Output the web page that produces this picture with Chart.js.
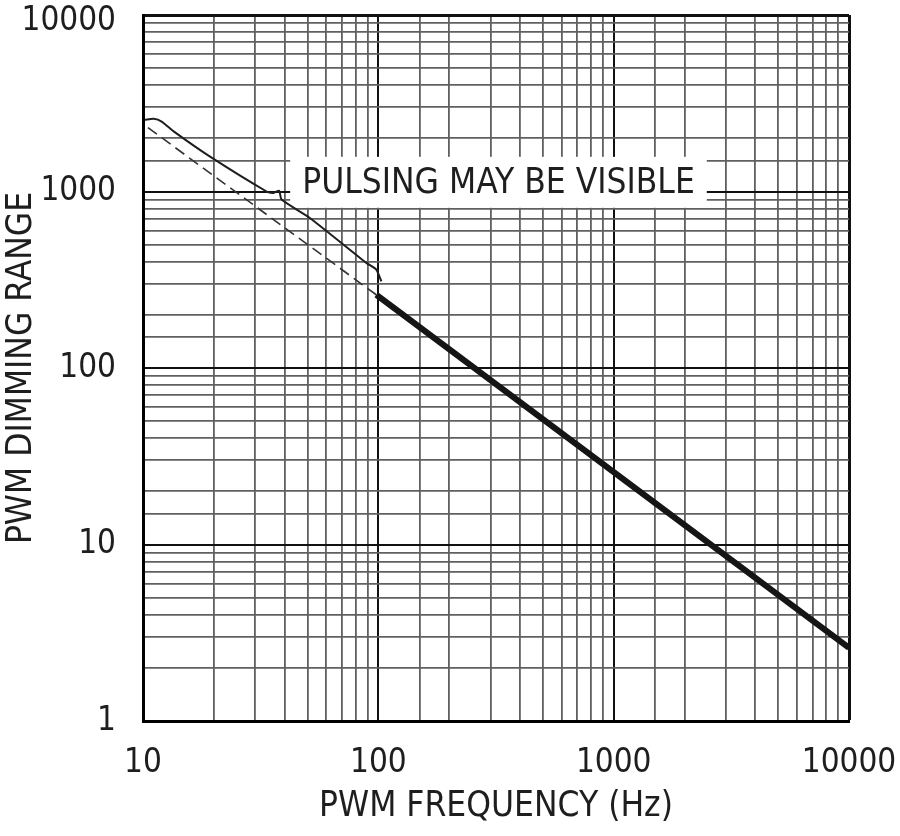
<!DOCTYPE html>
<html>
<head>
<meta charset="utf-8">
<script src="https://cdn.jsdelivr.net/npm/chart.js@4.4.1/dist/chart.umd.min.js"></script>
<style>
  html, body { margin: 0; padding: 0; background: #fff; }
  #wrap { width: 900px; height: 836px; }
</style>
</head>
<body>
<div id="wrap"><canvas id="chart" width="900" height="836"></canvas></div>
<script>
// values
const freqThick = [98, 10000];
const rangeThick = [260, 2.6];

const freqDashed = [10.5, 98];
const rangeDashed = [2300, 260];

// the thin bracket above the dashed part
const freqBracket = [10.2, 11.1, 12.0, 13.5, 19.2, 33.5, 35.7, 37.9, 38.8, 51, 88.9, 98, 103];
const rangeBracket = [2550, 2580, 2490, 2190, 1580, 1000, 980, 1010, 900, 710, 394, 361, 310];

const xTickLabels = [10, 100, 1000, 10000];
const yTickLabels = [1, 10, 100, 1000, 10000];

const noteText = 'PULSING MAY BE VISIBLE';
const noteAt = { x: 324, y: 1120 };

const FONT = "'Liberation Sans Narrow', 'DejaVu Sans Condensed', 'Arial Narrow', sans-serif";
const INK = '#1e1e1e';

const pts = (xs, ys) => xs.map((x, i) => ({ x, y: ys[i] }));
const isDecade = v => Math.abs(Math.log10(v) - Math.round(Math.log10(v))) < 1e-9;

function gridColor(ctx) {
  if (!ctx.tick) return '#555';
  return isDecade(ctx.tick.value) ? '#111' : '#606060';
}
function gridWidth(ctx, max) {
  if (!ctx.tick) return 2;
  if (ctx.tick.value >= max) return 3;
  return isDecade(ctx.tick.value) ? 2 : 1.8;
}
function noPad(scale) {
  scale.paddingLeft = 0;
  scale.paddingRight = 0;
  scale.paddingTop = 0;
  scale.paddingBottom = 0;
}

const notePlugin = {
  id: 'note',
  beforeDatasetsDraw(chart) {
    const { ctx, scales } = chart;
    const cx = scales.x.getPixelForValue(noteAt.x);
    const cy = scales.y.getPixelForValue(noteAt.y);
    ctx.save();
    ctx.font = '35px ' + FONT;
    const w = ctx.measureText(noteText).width;
    ctx.fillStyle = '#fff';
    ctx.fillRect(cx - w / 2 - 12, cy - 26, w + 24, 51);
    ctx.fillStyle = INK;
    ctx.textAlign = 'center';
    ctx.textBaseline = 'middle';
    ctx.fillText(noteText, cx, cy + 1);
    ctx.restore();
  }
};

function draw() {
  new Chart(document.getElementById('chart'), {
    type: 'line',
    data: {
      datasets: [
        {
          data: pts(freqThick, rangeThick),
          borderColor: '#151515', borderWidth: 6, pointRadius: 0, borderCapStyle: 'butt'
        },
        {
          data: pts(freqDashed, rangeDashed),
          borderColor: '#333', borderWidth: 1.6, borderDash: [11, 6], pointRadius: 0
        },
        {
          data: pts(freqBracket, rangeBracket),
          borderColor: INK, borderWidth: 2, pointRadius: 0, tension: 0.2
        }
      ]
    },
    options: {
      responsive: false,
      animation: false,
      layout: { padding: { top: 15, right: 51, left: 0, bottom: 0 } },
      plugins: { legend: { display: false }, tooltip: { enabled: false } },
      scales: {
        x: {
          type: 'logarithmic',
          min: 10, max: 10000,
          afterFit(scale) { scale.height = 115; noPad(scale); },
          border: { color: '#000', width: 3 },
          grid: {
            drawTicks: false,
            color: gridColor,
            lineWidth: ctx => gridWidth(ctx, 10000)
          },
          ticks: {
            autoSkip: false, maxRotation: 0, padding: 23,
            color: INK,
            font: { family: FONT, size: 33, lineHeight: 1.2 },
            callback: v => xTickLabels.includes(v) ? String(v) : ''
          },
          title: {
            display: true,
            text: 'PWM FREQUENCY (Hz)',
            color: INK,
            font: { family: FONT, size: 35, lineHeight: 1.2 },
            padding: { top: 0, bottom: 8 }
          }
        },
        y: {
          type: 'logarithmic',
          min: 1, max: 10000,
          afterFit(scale) { scale.width = 143; noPad(scale); },
          border: { color: '#000', width: 3 },
          grid: {
            drawTicks: false,
            color: gridColor,
            lineWidth: ctx => gridWidth(ctx, 10000)
          },
          ticks: {
            autoSkip: false, padding: 27,
            color: INK,
            // top label sits a little below its line, as in the original
            font: ctx => ({
              family: FONT, size: 33,
              lineHeight: ctx.tick && ctx.tick.value === 10000 ? 0.4 : 0.8
            }),
            callback: v => v === 10000 ? ['', '10000']
              : (yTickLabels.includes(v) ? String(v) : '')
          },
          title: {
            display: true,
            text: 'PWM DIMMING RANGE',
            color: INK,
            font: { family: FONT, size: 35, lineHeight: 1.2 },
            padding: { top: 1, bottom: 0 }
          }
        }
      }
    },
    plugins: [notePlugin]
  });
}

if (document.fonts && document.fonts.load) {
  document.fonts.load('35px ' + FONT).then(draw, draw);
} else {
  draw();
}
</script>
</body>
</html>
